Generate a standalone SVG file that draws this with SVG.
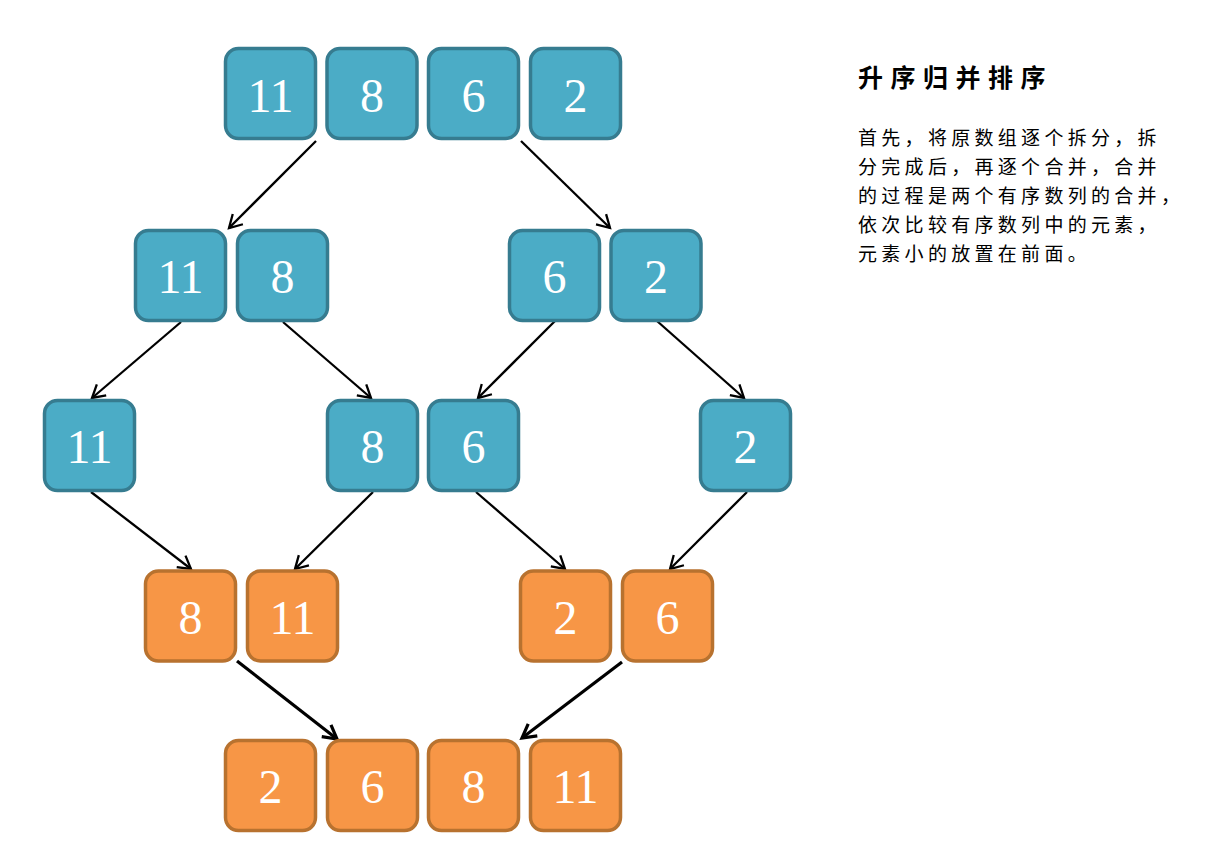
<svg xmlns="http://www.w3.org/2000/svg" width="1222" height="856" viewBox="0 0 1222 856">
<style>
.b rect{fill:#4BACC6;stroke:#367C90;stroke-width:3.5}
.o rect{fill:#F79646;stroke:#B8722F;stroke-width:3.5}
.n text{font-family:"Liberation Serif","Times New Roman",serif;font-size:48px;fill:#fff;text-anchor:middle}
.c line{stroke:#000;stroke-width:2.3}
.c line.t{stroke-width:3.2}
.title{font-family:"Noto Sans CJK SC","Noto Sans",sans-serif;font-size:25px;font-weight:bold;fill:#000;letter-spacing:7.5px}
.body{font-family:"Noto Sans CJK SC","Noto Sans",sans-serif;font-size:19px;fill:#000;letter-spacing:4.3px}
</style>
<defs>
<marker id="ah" markerWidth="18" markerHeight="20" refX="14" refY="10" orient="auto" markerUnits="userSpaceOnUse" viewBox="0 0 18 20">
<path d="M1.5,2.8 L14,10 L1.5,17.2" fill="none" stroke="#000" stroke-width="2.3"/>
</marker>
<marker id="ahT" markerWidth="20" markerHeight="22" refX="15" refY="11" orient="auto" markerUnits="userSpaceOnUse" viewBox="0 0 20 22">
<path d="M1.5,3.5 L15,11 L1.5,18.5" fill="none" stroke="#000" stroke-width="3.2"/>
</marker>
</defs>
<rect width="1222" height="856" fill="#fff"/>

<g id="connectors" class="c">
<line x1="316" y1="141" x2="229" y2="228" marker-end="url(#ah)"/>
<line x1="521" y1="141" x2="610" y2="228" marker-end="url(#ah)"/>
<line x1="181" y1="322" x2="92" y2="398" marker-end="url(#ah)"/>
<line x1="283" y1="322" x2="371" y2="398" marker-end="url(#ah)"/>
<line x1="555" y1="321" x2="478" y2="398" marker-end="url(#ah)"/>
<line x1="657" y1="321" x2="744" y2="398" marker-end="url(#ah)"/>
<line x1="91" y1="492" x2="191" y2="569" marker-end="url(#ah)"/>
<line x1="373" y1="492" x2="295" y2="569" marker-end="url(#ah)"/>
<line x1="476" y1="492" x2="565" y2="569" marker-end="url(#ah)"/>
<line x1="747" y1="492" x2="670" y2="569" marker-end="url(#ah)"/>
<line class="t" x1="237" y1="661" x2="337" y2="739" marker-end="url(#ahT)"/>
<line class="t" x1="622" y1="662" x2="522" y2="738" marker-end="url(#ahT)"/>
</g>

<g id="r1n1" class="n b"><rect x="225.5" y="48.5" width="90" height="90" rx="13"/><text x="270.5" y="112">11</text></g>
<g id="r1n2" class="n b"><rect x="327" y="48.5" width="90" height="90" rx="13"/><text x="372" y="112">8</text></g>
<g id="r1n3" class="n b"><rect x="428.5" y="48.5" width="90" height="90" rx="13"/><text x="473.5" y="112">6</text></g>
<g id="r1n4" class="n b"><rect x="530.5" y="48.5" width="90" height="90" rx="13"/><text x="575.5" y="112">2</text></g>

<g id="r2n1" class="n b"><rect x="135.5" y="230.5" width="90" height="90" rx="13"/><text x="180.5" y="293">11</text></g>
<g id="r2n2" class="n b"><rect x="237.5" y="230.5" width="90" height="90" rx="13"/><text x="282.5" y="293">8</text></g>
<g id="r2n3" class="n b"><rect x="509.5" y="230.5" width="90" height="90" rx="13"/><text x="554.5" y="293">6</text></g>
<g id="r2n4" class="n b"><rect x="611" y="230.5" width="90" height="90" rx="13"/><text x="656" y="293">2</text></g>

<g id="r3n1" class="n b"><rect x="44.5" y="400.5" width="90" height="90" rx="13"/><text x="89.5" y="463">11</text></g>
<g id="r3n2" class="n b"><rect x="327.5" y="400.5" width="90" height="90" rx="13"/><text x="372.5" y="463">8</text></g>
<g id="r3n3" class="n b"><rect x="428.5" y="400.5" width="90" height="90" rx="13"/><text x="473.5" y="463">6</text></g>
<g id="r3n4" class="n b"><rect x="700.5" y="400.5" width="90" height="90" rx="13"/><text x="745.5" y="463">2</text></g>

<g id="r4n1" class="n o"><rect x="145.5" y="571" width="90" height="90" rx="13"/><text x="190.5" y="634">8</text></g>
<g id="r4n2" class="n o"><rect x="247.5" y="571" width="90" height="90" rx="13"/><text x="292.5" y="634">11</text></g>
<g id="r4n3" class="n o"><rect x="520.5" y="571" width="90" height="90" rx="13"/><text x="565.5" y="634">2</text></g>
<g id="r4n4" class="n o"><rect x="622.5" y="571" width="90" height="90" rx="13"/><text x="667.5" y="634">6</text></g>

<g id="r5n1" class="n o"><rect x="225.5" y="740.5" width="90" height="90" rx="13"/><text x="270.5" y="803">2</text></g>
<g id="r5n2" class="n o"><rect x="327.5" y="740.5" width="90" height="90" rx="13"/><text x="372.5" y="803">6</text></g>
<g id="r5n3" class="n o"><rect x="428.5" y="740.5" width="90" height="90" rx="13"/><text x="473.5" y="803">8</text></g>
<g id="r5n4" class="n o"><rect x="530.5" y="740.5" width="90" height="90" rx="13"/><text x="575.5" y="803">11</text></g>

<g id="description">
<text class="title" x="858" y="87">升序归并排序</text>
<text class="body" x="858" y="145">首先，将原数组逐个拆分，拆</text>
<text class="body" x="858" y="174">分完成后，再逐个合并，合并</text>
<text class="body" x="858" y="203">的过程是两个有序数列的合并，</text>
<text class="body" x="858" y="232">依次比较有序数列中的元素，</text>
<text class="body" x="858" y="261">元素小的放置在前面。</text>
</g>
</svg>
